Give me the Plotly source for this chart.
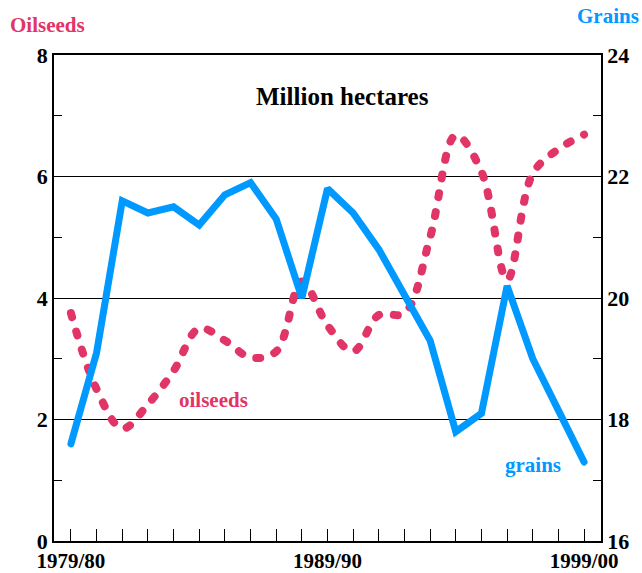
import plotly.graph_objects as go

# Marketing years 1979/80 .. 1999/00
years = ['1979/80', '1980/81', '1981/82', '1982/83', '1983/84', '1984/85', '1985/86',
         '1986/87', '1987/88', '1988/89', '1989/90', '1990/91', '1991/92', '1992/93',
         '1993/94', '1994/95', '1995/96', '1996/97', '1997/98', '1998/99', '1999/00']
x_idx = list(range(len(years)))

# Million hectares
oilseeds = [3.75, 2.5, 1.85, 2.25, 2.8, 3.5, 3.3, 3.02, 3.12, 4.27, 3.55,
            3.12, 3.72, 3.75, 5.0, 6.68, 6.08, 4.3, 6.05, 6.45, 6.69]
grains = [17.6, 19.1, 21.6, 21.4, 21.5, 21.2, 21.7, 21.9, 21.3, 20.0, 21.8,
          21.4, 20.8, 20.05, 19.3, 17.8, 18.1, 20.2, 19.0, 18.15, 17.3]

label_years = ['1979/80', '1989/90', '1999/00']

PINK = '#e03566'
BLUE = '#0099ff'
FONT = 'Liberation Serif, Times New Roman, serif'

fig = go.Figure()

fig.add_trace(go.Scatter(
    x=x_idx, y=oilseeds, mode='lines', name='oilseeds',
    line=dict(color=PINK, width=8, dash='4px,15px', shape='spline', smoothing=1),
    yaxis='y'
))

fig.add_trace(go.Scatter(
    x=x_idx, y=grains, mode='lines', name='grains',
    line=dict(color=BLUE, width=7),
    yaxis='y2'
))

tick_font = dict(family=FONT, size=22, color='black', weight='bold')

fig.update_layout(
    width=642, height=573,
    margin=dict(l=54, r=41, t=55, b=32),
    plot_bgcolor='white', paper_bgcolor='white',
    showlegend=False,
    font=dict(family=FONT, size=22, color='black'),
    xaxis=dict(
        range=[-0.66, 20.66],
        tickvals=[years.index(y) for y in label_years],
        ticktext=label_years,
        ticks='inside', ticklen=12, tickcolor='black', tickwidth=1,
        minor=dict(ticks='inside', tick0=0, dtick=1, ticklen=12, tickcolor='black'),
        showgrid=False, zeroline=False,
        showline=True, linecolor='black', linewidth=2, mirror=True,
        tickfont=dict(family=FONT, size=21, color='black', weight='bold'),
        automargin=False, ticklabelstandoff=0,
    ),
    yaxis=dict(
        range=[0, 8], dtick=2, tick0=0,
        ticks='inside', ticklen=8, tickcolor='black',
        minor=dict(ticks='inside', dtick=1, ticklen=8, tickcolor='black', showgrid=False),
        showgrid=True, gridcolor='black', gridwidth=1, zeroline=False,
        showline=True, linecolor='black', linewidth=1.5,
        tickfont=tick_font, automargin=False,
    ),
    yaxis2=dict(
        range=[16, 24], dtick=2, tick0=16,
        overlaying='y', side='right',
        ticks='inside', ticklen=8, tickcolor='black',
        minor=dict(ticks='inside', dtick=1, ticklen=8, tickcolor='black', showgrid=False),
        showgrid=False, zeroline=False,
        showline=True, linecolor='black', linewidth=1.5,
        tickfont=tick_font, automargin=False,
    ),
)

# Texts in the chart
notes = [
    ('<b>Million hectares</b>', 0.528, 0.914, 25, 'black'),
    ('<b>oilseeds</b>', 0.2925, 0.29, 21, PINK),
    ('<b>grains</b>', 0.876, 0.156, 21, BLUE),
    ('<b>Oilseeds</b>', -0.011, 1.062, 21, PINK),
    ('<b>Grains</b>', 1.013, 1.080, 21, BLUE),
]
for txt, nx, ny, size, col in notes:
    fig.add_annotation(text=txt, x=nx, y=ny, xref='paper', yref='paper',
                       xanchor='center', yanchor='middle', showarrow=False,
                       font=dict(family=FONT, size=size, color=col))

# no page margin, rounded dash ends for the dotted oilseeds line
js = ("document.body.style.margin='0';"
      "document.querySelectorAll('.scatterlayer .trace path.js-line').forEach(function(p){"
      "p.style.strokeLinecap='round';});")
fig.write_html("out.html", post_script=js, config={'displayModeBar': False})
